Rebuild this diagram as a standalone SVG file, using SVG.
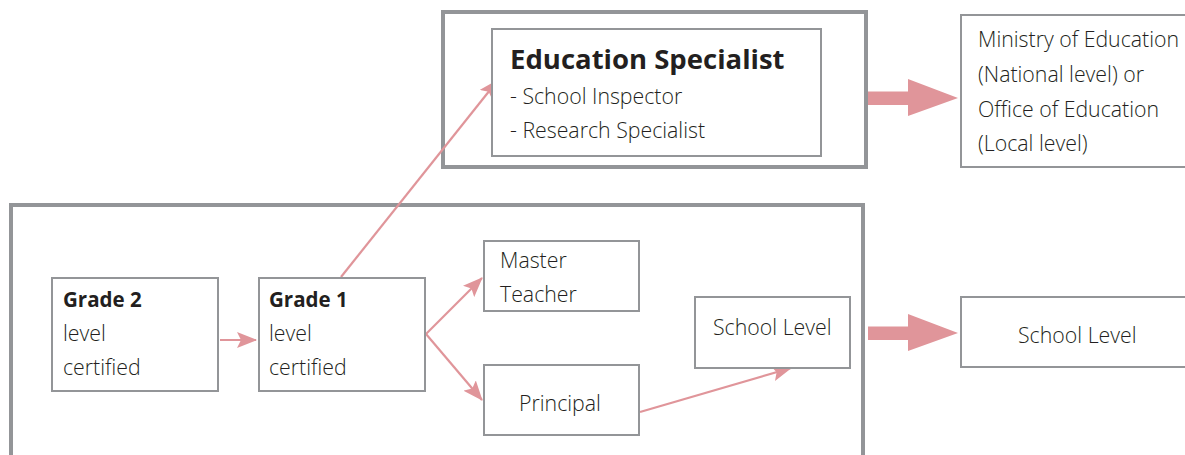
<svg xmlns="http://www.w3.org/2000/svg" width="1185" height="455" viewBox="0 0 1185 455">
  <style>
    .frame { fill: none; stroke: #939598; stroke-width: 4; }
    .box { fill: #ffffff; stroke: #939598; stroke-width: 2; }
    .t { font-family: "Open Sans", "Noto Sans", sans-serif; font-size: 21.3px; font-weight: 300; fill: #231f20; }
    .b { font-weight: 700; font-size: 20.5px; }
    .title { font-weight: 700; font-size: 27.5px; }
    .link { fill: none; stroke: #e0959a; stroke-width: 2.2; }
    .big { fill: #e0959a; }
  </style>
  <defs>
    <marker id="head" viewBox="0 0 20 16" refX="19" refY="8" markerWidth="20" markerHeight="16" orient="auto" markerUnits="userSpaceOnUse">
      <path d="M0,0 L20,8 L0,16 L4,8 Z" fill="#e0959a"/>
    </marker>
  </defs>

  <!-- enclosing frames -->
  <rect class="frame" x="443" y="12" width="423" height="155"/>
  <rect class="frame" x="11" y="205" width="852" height="252"/>

  <!-- connectors -->
  <g id="connectors">
    <line class="link" x1="220" y1="340" x2="256" y2="340" marker-end="url(#head)"/>
    <line class="link" x1="341" y1="277" x2="498" y2="80" marker-end="url(#head)"/>
    <line class="link" x1="426" y1="334" x2="482" y2="278" marker-end="url(#head)"/>
    <line class="link" x1="426" y1="334" x2="482" y2="400" marker-end="url(#head)"/>
    <line class="link" x1="640" y1="412" x2="791" y2="368" marker-end="url(#head)"/>
    <path class="big" d="M868,91.5 L908,91.5 L908,79 L958,98 L908,116 L908,105 L868,105 Z"/>
    <path class="big" d="M868,326.5 L908,326.5 L908,314 L958,333 L908,351 L908,340 L868,340 Z"/>
  </g>

  <g id="education-specialist">
    <rect class="box" x="492" y="29" width="329" height="127"/>
    <text class="t title" x="510" y="69">Education Specialist</text>
    <text class="t" x="510" y="104">- School Inspector</text>
    <text class="t" x="510" y="138">- Research Specialist</text>
  </g>

  <g id="ministry">
    <rect class="box" x="961" y="15" width="230" height="152"/>
    <text class="t" x="978" y="47">Ministry of Education</text>
    <text class="t" x="978" y="82">(National level) or</text>
    <text class="t" x="978" y="117">Office of Education</text>
    <text class="t" x="978" y="151">(Local level)</text>
  </g>

  <g id="grade-2">
    <rect class="box" x="52" y="278" width="166" height="113"/>
    <text class="t b" x="63" y="307">Grade 2</text>
    <text class="t" x="63" y="341">level</text>
    <text class="t" x="63" y="375">certified</text>
  </g>

  <g id="grade-1">
    <rect class="box" x="259" y="278" width="166" height="113"/>
    <text class="t b" x="269" y="307">Grade 1</text>
    <text class="t" x="269" y="341">level</text>
    <text class="t" x="269" y="375">certified</text>
  </g>

  <g id="master-teacher">
    <rect class="box" x="484" y="241" width="155" height="70"/>
    <text class="t" x="500" y="268">Master</text>
    <text class="t" x="500" y="302">Teacher</text>
  </g>

  <g id="principal">
    <rect class="box" x="484" y="365" width="155" height="70"/>
    <text class="t" x="519" y="411">Principal</text>
  </g>

  <g id="school-level-inner">
    <rect class="box" x="695" y="297" width="155" height="71"/>
    <text class="t" x="713" y="335">School Level</text>
  </g>

  <g id="school-level-outer">
    <rect class="box" x="961" y="297" width="230" height="70"/>
    <text class="t" x="1018" y="343">School Level</text>
  </g>
</svg>
